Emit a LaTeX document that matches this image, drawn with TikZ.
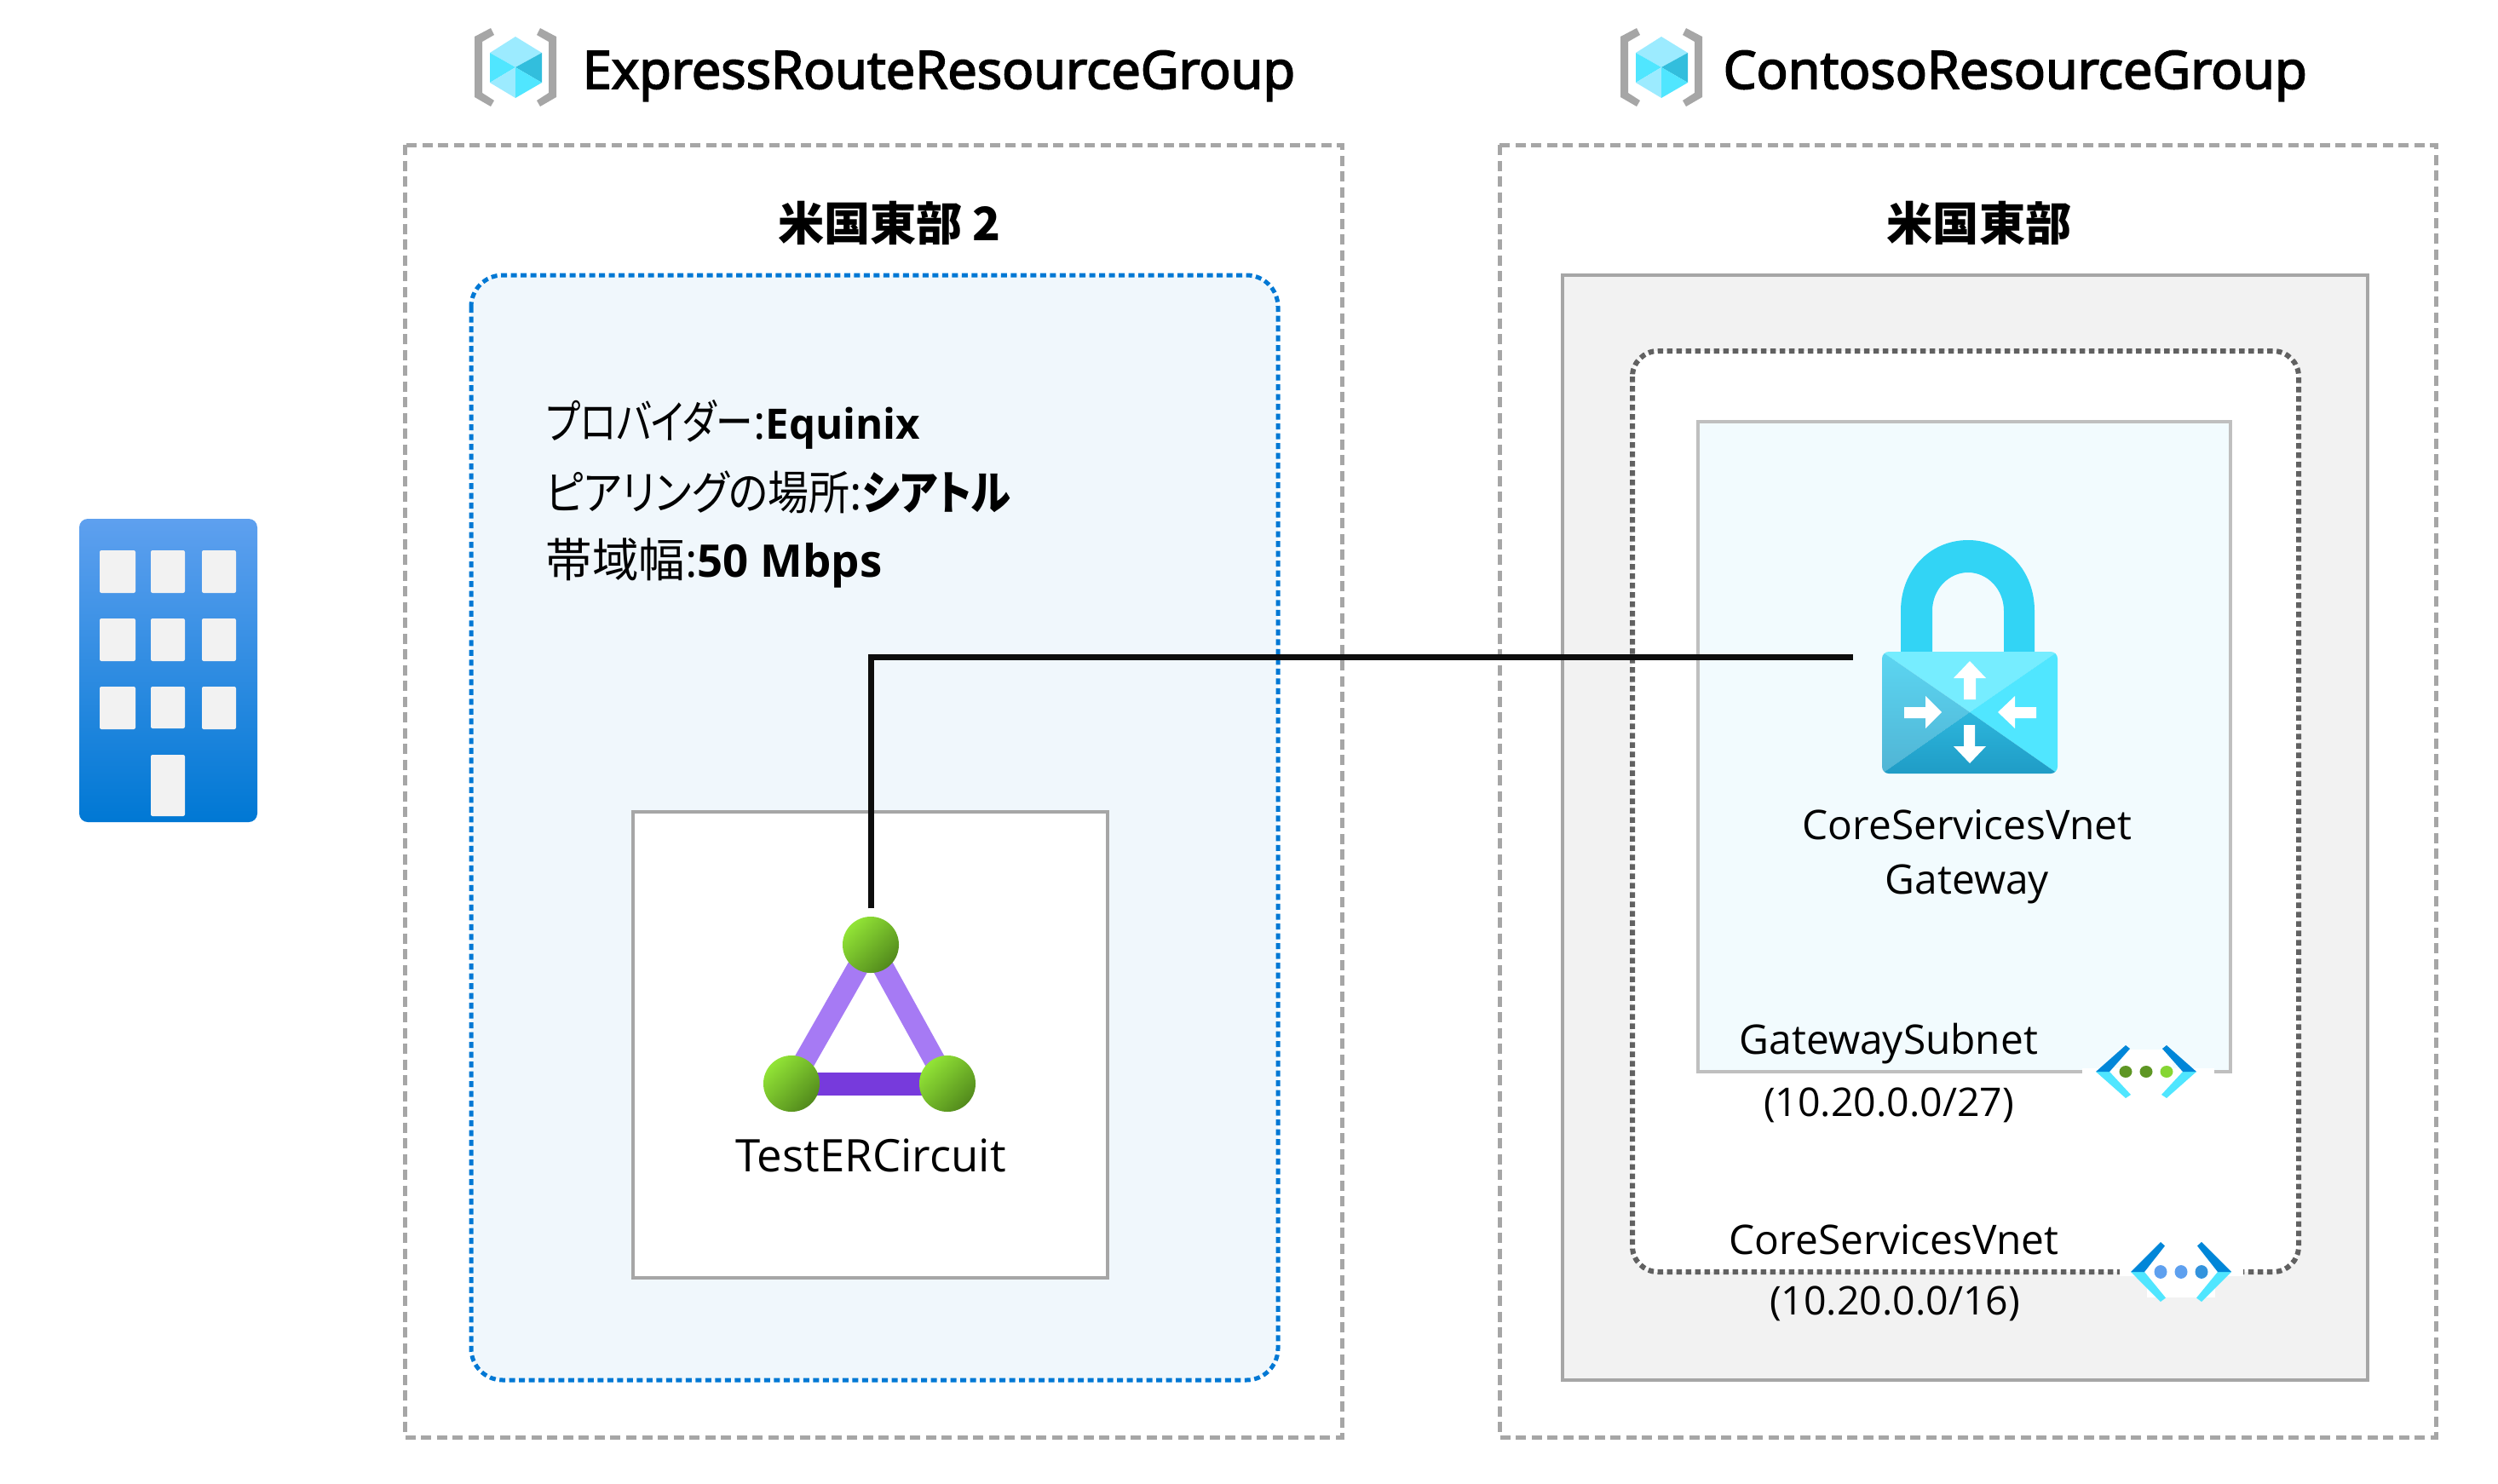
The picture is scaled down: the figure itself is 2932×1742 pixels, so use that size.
\documentclass[tikz,border=0pt]{standalone}
\usepackage{fontspec}
\setmainfont{Open Sans}
\newfontfamily\jpfont[RawFeature=+palt]{Noto Sans CJK JP}
\newfontfamily\medfont[FakeBold=3]{Open Sans}
\definecolor{msblue}{HTML}{0078D4}
\definecolor{skyblue}{HTML}{5EA0EF}
\definecolor{cyanA}{HTML}{50E6FF}
\definecolor{cyanB}{HTML}{9CEBFF}
\definecolor{cyanC}{HTML}{32BEDD}
\definecolor{lockcyan}{HTML}{32D4F5}
\definecolor{locktop}{HTML}{76EDFF}
\definecolor{lockleftA}{HTML}{5CD6F2}
\definecolor{lockleftB}{HTML}{50B4D4}
\definecolor{lockbotA}{HTML}{2DB6DC}
\definecolor{lockbotB}{HTML}{1F9CC6}
\definecolor{ltgreen}{HTML}{86D633}
\definecolor{dkgreen}{HTML}{5E9624}
\definecolor{dotgreenA}{HTML}{92E436}
\definecolor{dotgreenB}{HTML}{528A1C}
\definecolor{boxgray}{HTML}{A6A6A6}
\definecolor{ltviolet}{HTML}{A67AF4}
\definecolor{dkviolet}{HTML}{773ADC}
\tikzset{
  grouptitle/.style={anchor=base west,inner sep=0pt,font=\fontsize{17.5}{20}\selectfont\medfont},
  regiontitle/.style={anchor=base,inner sep=0pt,font=\fontsize{15.4}{17}\selectfont\bfseries},
  infotext/.style={anchor=base west,inner sep=0pt,font=\fontsize{15.5}{17}\selectfont},
  plainlabel/.style={anchor=base,inner sep=0pt,font=\fontsize{13.6}{17}\selectfont},
  rangelabel/.style={anchor=base,inner sep=0pt,font=\fontsize{13.2}{17}\selectfont},
  groupbox/.style={draw=boxgray,line width=0.05cm,dash pattern=on 0.12cm off 0.065cm},
  window/.style={fill=white!95!black,rounded corners=0.02cm},
  erdot/.style={circle,inner sep=0pt,minimum size=0.66cm,shading=axis,top color=dotgreenA,bottom color=dotgreenB,shading angle=45},
  wire/.style={line width=0.07cm,black!95},
  pics/rgmark/.style={code={
    \fill[boxgray] (-29,-46) -- (-48,-36) -- (-48,35) -- (-29,46) -- (-25,39) -- (-39,30) -- (-39,-30) -- (-25,-38) -- cycle;
    \fill[boxgray] (29,-46) -- (48,-36) -- (48,35) -- (29,46) -- (25,39) -- (39,30) -- (39,-30) -- (25,-38) -- cycle;
    \fill[cyanB] (0,0) -- (-30,-17) -- (0,-36) -- (31,-17) -- cycle;
    \fill[cyanA] (0,0) -- (-30,-17) -- (-30,18) -- cycle;
    \fill[cyanC] (0,0) -- (31,-17) -- (31,18) -- cycle;
    \fill[cyanB] (0,0) -- (-30,18) -- (0,36) -- cycle;
    \fill[cyanA] (0,0) -- (31,18) -- (0,36) -- cycle;
  }},
  pics/netmark/.style n args={3}{code={
    \fill[cyanA] (-59,0) -- (-24,31) -- (-18,27) -- (-43,0) -- cycle;
    \fill[cyanA] (59,0) -- (24,31) -- (18,27) -- (43,0) -- cycle;
    \fill[#3] (-59,0) -- (-24,-31) -- (-19,-27) -- (-43,0) -- cycle;
    \fill[#3] (59,0) -- (24,-31) -- (19,-27) -- (43,0) -- cycle;
    \fill[#1] (-24,0) ellipse (7.5 and 7);
    \fill[#1] (0,0) ellipse (7.5 and 7);
    \fill[#2] (24,0) ellipse (7.5 and 7);
  }},
}
\begin{document}
\begin{tikzpicture}[x=0.01cm,y=-0.01cm]
\useasboundingbox (0,0) rectangle (2932,1742);

% Building
\shade[top color=skyblue,bottom color=msblue,rounded corners=0.1cm] (93,609) rectangle (302,965);
\fill[window] (117,646) rectangle (159,696);
\fill[window] (177,646) rectangle (217,696);
\fill[window] (237,646) rectangle (277,696);
\fill[window] (117,726) rectangle (159,776);
\fill[window] (177,726) rectangle (217,776);
\fill[window] (237,726) rectangle (277,776);
\fill[window] (117,806) rectangle (159,856);
\fill[window] (177,806) rectangle (217,855);
\fill[window] (237,806) rectangle (277,856);
\fill[window] (177,886) rectangle (217,958);

% Resource groups
\draw[groupbox] (475,170) rectangle (1575,1687);
\draw[groupbox] (1760,170) rectangle (2859,1687);
\pic at (605,79) {rgmark};
\pic at (1950,79) {rgmark};
\node[grouptitle] (expressTitle) at (683,104) {ExpressRouteResourceGroup};
\node[grouptitle] (contosoTitle) at (2022,104) {ContosoResourceGroup};
\node[regiontitle] (east2Title) at (1044,282) {\jpfont 米国東部 2};
\node[regiontitle] (eastTitle) at (2323,282) {\jpfont 米国東部};

% Left region
\draw[msblue,fill=msblue!6,line width=0.05cm,dash pattern=on 0.07cm off 0.045cm,rounded corners=0.37cm] (553,323) rectangle (1500,1620);
\draw[boxgray,fill=white,line width=0.045cm] (743,953) rectangle (1300,1500);
\node[infotext] (providerText) at (640,515) {\scalebox{0.8}[1]{\jpfont プロバイダー}:{\fontsize{14}{17}\selectfont\bfseries Equinix}};
\node[infotext] (peeringText) at (640,598) {\scalebox{0.88}[1]{\jpfont ピアリングの場所}:\scalebox{0.87}[1]{\jpfont\bfseries シアトル}};
\node[infotext] (bandwidthText) at (640,677) {{\jpfont 帯域幅}:{\fontsize{15}{17}\selectfont\bfseries 50 Mbps}};

% Right region
\draw[boxgray,fill=white!95!black,line width=0.045cm] (1834,323) rectangle (2779,1620);
\draw[black!62,fill=white,line width=0.06cm,dash pattern=on 0.065cm off 0.045cm,rounded corners=0.3cm] (1916,412) rectangle (2698,1493);
\draw[black!25,fill=cyan!5,line width=0.045cm] (1993,495) rectangle (2618,1258);
\fill[white] (2444,1254) rectangle (2599,1262);
\fill[white] (2490,1232) rectangle (2550,1254);
\fill[white] (2488,1488) rectangle (2633,1498);
\fill[white] (2520,1498) rectangle (2600,1523);
\pic at (2519,1258) {netmark={dkgreen}{ltgreen}{msblue!90!cyan}};
\pic[yscale=1.13] at (2560,1493) {netmark={skyblue}{msblue!80}{msblue!90!cyan}};
\node[plainlabel] (subnetName) at (2217,1237) {GatewaySubnet};
\node[rangelabel] (subnetRange) at (2217,1310) {(10.20.0.0/27)};
\node[plainlabel] (vnetName) at (2223,1472) {CoreServicesVnet};
\node[rangelabel] (vnetRange) at (2224,1543) {(10.20.0.0/16)};

% Gateway lock
\fill[lockcyan] (2231,765) -- (2231,717) .. controls (2231,670) and (2265,634) .. (2310,634)
  .. controls (2355,634) and (2388,670) .. (2388,717) -- (2388,765) -- (2352,765) -- (2352,717)
  .. controls (2352,692) and (2333,672) .. (2310,672) .. controls (2287,672) and (2268,692) .. (2268,717) -- (2268,765) -- cycle;
\begin{scope}
\clip[rounded corners=0.08cm] (2209,765) rectangle (2415,908);
\fill[locktop] (2312,836) -- (2209,765) -- (2415,765) -- cycle;
\fill[cyanA] (2312,836) -- (2415,765) -- (2415,908) -- cycle;
\shade[top color=lockleftA,bottom color=lockleftB] (2312,836) -- (2209,765) -- (2209,908) -- cycle;
\shade[top color=lockbotA,bottom color=lockbotB] (2312,836) -- (2209,908) -- (2415,908) -- cycle;
\end{scope}
\fill[white] (2312,776) -- (2331,796) -- (2319,796) -- (2319,821) -- (2305,821) -- (2305,796) -- (2293,796) -- cycle;
\fill[white] (2312,896) -- (2331,876) -- (2318,876) -- (2318,851) -- (2305,851) -- (2305,876) -- (2293,876) -- cycle;
\fill[white] (2279,836) -- (2260,817) -- (2260,830) -- (2235,830) -- (2235,843) -- (2260,843) -- (2260,855) -- cycle;
\fill[white] (2345,836) -- (2365,817) -- (2365,830) -- (2390,830) -- (2390,843) -- (2365,843) -- (2365,855) -- cycle;
\node[plainlabel] (gatewayNameA) at (2309,985) {CoreServicesVnet};
\node[plainlabel] (gatewayNameB) at (2309,1049) {Gateway};

% Circuit triangle
\coordinate (erA) at (1022,1109);
\coordinate (erB) at (929,1272);
\coordinate (erC) at (1112,1272);
\coordinate (gwLink) at (2175,771.5);
\draw[line width=0.25cm,ltviolet] (erA) -- (erB);
\draw[line width=0.25cm,ltviolet] (erA) -- (erC);
\draw[line width=0.27cm,dkviolet] (erB) -- (erC);
\node[erdot] (erTop) at (erA) {};
\node[erdot] (erLeft) at (erB) {};
\node[erdot] (erRight) at (erC) {};
\node[plainlabel,font=\fontsize{15}{17}\selectfont] (circuitName) at (1022,1375) {TestERCircuit};

% Connection
\draw[wire,shorten <=0.09cm] (erTop.north) |- (gwLink);

\end{tikzpicture}
\end{document}
